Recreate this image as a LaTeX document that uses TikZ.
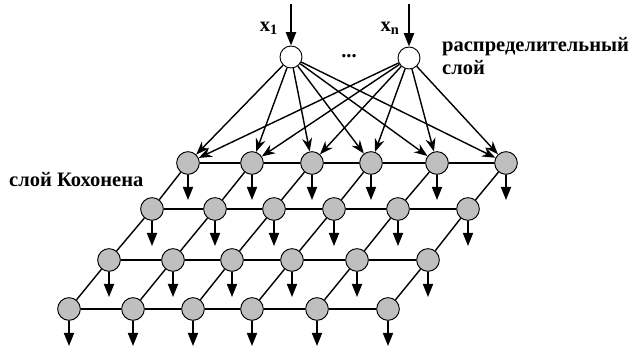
\documentclass[tikz,border=0pt]{standalone}
\usepackage{fontspec}
\setmainfont{Liberation Serif}
\usetikzlibrary{arrows.meta}

\begin{document}
\begin{tikzpicture}[x=0.03cm, y=-0.03cm,
          unit/.style={
              circle,
              draw=black,
              fill=black!25,
              line width=0.8pt,
              minimum size=0.68cm,
              inner sep=0pt
            },
          inp/.style={
              circle,
              draw=black,
              fill=white,
              line width=0.8pt,
              minimum size=0.66cm,
              inner sep=0pt
            },
          lbl/.style={font=\bfseries\fontsize{17.5}{20}\selectfont, align=left, inner sep=0pt},
          arr/.style={-{Stealth[length=0.4cm, width=0.3cm]}, line width=1.2pt},
          outarr/.style={-{Triangle[length=0.4cm, width=0.3cm]}, line width=1.8pt},
          link/.style={line width=1.2pt}
        ]
        \useasboundingbox (0,0) rectangle (630,347);

        % distribution layer
        \node[inp] (x1) at (291,57) {};
        \node[inp] (xn) at (409,58) {};
        \coordinate (in1) at (291,4);
        \coordinate (inn) at (409,4);
        \node[lbl] (lx1) at (269,28) {x\textsubscript{1}};
        \node[lbl] (lxn) at (390,28) {x\textsubscript{n}};
        \node[lbl] (dots) at (349,56) {...};
        \node[lbl, anchor=west] (dist) at (442,56) {распределительный\\слой};
        \node[lbl, anchor=west] (koh) at (9,180) {слой Кохонена};

        % Kohonen layer
        \node[unit] (n11) at (188,163) {};
        \node[unit] (n12) at (252,163) {};
        \node[unit] (n13) at (312,163) {};
        \node[unit] (n14) at (371,163) {};
        \node[unit] (n15) at (437,163) {};
        \node[unit] (n16) at (506,163) {};

        \node[unit] (n21) at (152,209) {};
        \node[unit] (n22) at (215,209) {};
        \node[unit] (n23) at (274,209) {};
        \node[unit] (n24) at (334,209) {};
        \node[unit] (n25) at (398,209) {};
        \node[unit] (n26) at (468,209) {};

        \node[unit] (n31) at (109,260) {};
        \node[unit] (n32) at (173,260) {};
        \node[unit] (n33) at (232,260) {};
        \node[unit] (n34) at (292,260) {};
        \node[unit] (n35) at (357,260) {};
        \node[unit] (n36) at (428,260) {};

        \node[unit] (n41) at (69,309) {};
        \node[unit] (n42) at (133,309) {};
        \node[unit] (n43) at (193,309) {};
        \node[unit] (n44) at (252,309) {};
        \node[unit] (n45) at (317,309) {};
        \node[unit] (n46) at (388,309) {};

        \draw[outarr] (in1) -- (x1);
        \draw[outarr] (inn) -- (xn);

        \foreach \c in {1,...,6} {
            \draw[arr] (x1) -- (n1\c);
            \draw[arr] (xn) -- (n1\c);
          }

        \foreach \r in {1,...,4}
          \foreach \c [count=\cn from 2] in {1,...,5}
            \draw[link] (n\r\c) -- (n\r\cn);

        \foreach \r [count=\rn from 2] in {1,2,3}
          \foreach \c in {1,...,6}
            \draw[link] (n\r\c) -- (n\rn\c);

        \foreach \r in {1,...,4}
          \foreach \c in {1,...,6} {
              \coordinate (o\r\c) at ([yshift=-0.76cm]n\r\c.south);
              \draw[outarr] (n\r\c) -- (o\r\c);
            }
      \end{tikzpicture}
\end{document}
